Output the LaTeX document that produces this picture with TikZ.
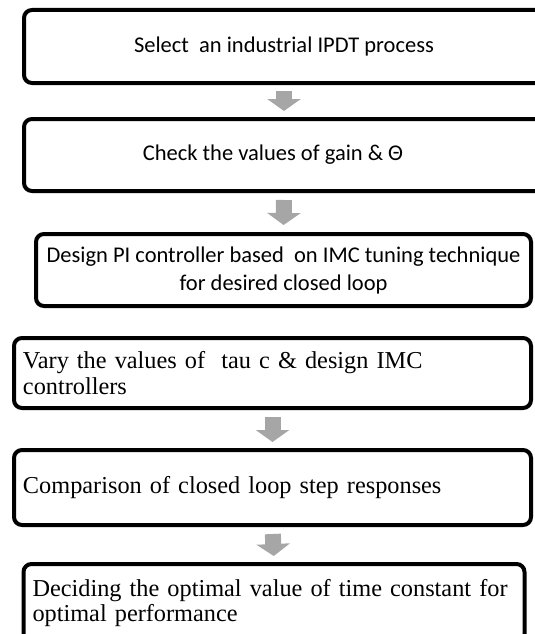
\documentclass[tikz,border=0pt]{standalone}
\usepackage{fontspec}
\setmainfont{Liberation Serif}
\newfontfamily\calfont{Carlito}
\usetikzlibrary{arrows.meta}
\definecolor{flowgrey}{RGB}{166,166,166}
\begin{document}
\begin{tikzpicture}[x=1pt,y=-1pt,
  stepbox/.style={draw=black, line width=4pt, rounded corners=8pt,
    inner xsep=8pt, inner ysep=0pt, fill=white},
  sansbox/.style={stepbox, font=\calfont\fontsize{22.5}{28}\selectfont, align=center},
  serifbox/.style={stepbox, inner xsep=9pt, font=\fontsize{24.3}{26}\selectfont, align=left},
  flow/.style={draw=flowgrey, line width=16pt,
    -{Triangle[width=33pt,length=12pt]}}
]
\useasboundingbox (0,0) rectangle (535,634);
\begin{scope}
\clip (0,0) rectangle (535,634);
% process steps
\node[sansbox, minimum width=520pt, minimum height=73pt] (b1) at (284,46.5)
  {Select\ \ an industrial IPDT process};
\node[sansbox, minimum width=520pt, minimum height=72pt] (b2) at (284,155)
  {\raisebox{-4pt}{Check the values of gain \& Θ}\hspace*{22pt}};
\node[sansbox, minimum width=495pt, minimum height=72pt] (b3) at (283.5,270)
  {Design PI controller based\ \ on IMC tuning technique\\for desired closed loop};
\node[serifbox, minimum width=517pt, minimum height=70pt, text width=499pt] (b4) at (272.5,373)
  {Vary the values of\ \ tau c \& design IMC\\controllers};
\node[serifbox, minimum width=517pt, minimum height=75pt, text width=499pt] (b5) at (272.5,487.5)
  {\raisebox{-3pt}{Comparison of closed loop step responses}};
\node[serifbox, minimum width=501pt, minimum height=78pt, text width=483pt,
      font=\fontsize{24.3}{22}\selectfont] (b6) at (274,603)
  {\vspace*{2pt}Deciding the optimal value of time constant for\\optimal performance};
% block arrows between the steps
\draw[flow, shorten <=6pt, shorten >=6pt] (b1.south) -- (b2.north);
\draw[flow, shorten <=7pt, shorten >=7pt] (b2.south) -- (b3.north);
\draw[flow, shorten <=7pt, shorten >=6pt] (b4.south) -- (b5.north);
\draw[flow, shorten <=7pt, shorten >=6pt] (b5.south) -- (b6.north);
\end{scope}
\end{tikzpicture}
\end{document}
